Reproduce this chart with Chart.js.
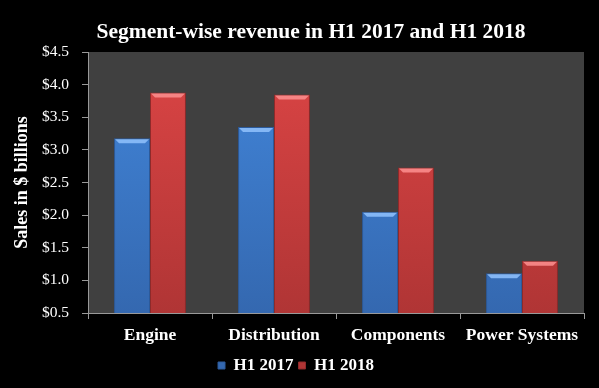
<!DOCTYPE html>
<html><head><meta charset="utf-8">
<script src="https://cdn.jsdelivr.net/npm/chart.js@4.4.0/dist/chart.umd.min.js"></script>
<style>html,body{margin:0;padding:0;background:#000;}#wrap{width:599px;height:388px;}</style>
</head><body><div id="wrap"><canvas id="c" width="599" height="388"></canvas></div>
<script>
const categories = ["Engine", "Distribution", "Components", "Power Systems"];
const h1_2017 = [3.18, 3.35, 2.05, 1.11];
const h1_2018 = [3.88, 3.85, 2.73, 1.30];
const yTicks = [0.5, 1.0, 1.5, 2.0, 2.5, 3.0, 3.5, 4.0, 4.5];
const chartTitle = 'Segment-wise revenue in H1 2017 and H1 2018';

const FONT = "'Liberation Serif', 'DejaVu Serif', serif";

function grad(ctx, top, bot) {
  const ca = ctx.chart.chartArea;
  if (!ca) return top;
  const g = ctx.chart.ctx.createLinearGradient(0, ca.top, 0, ca.bottom);
  g.addColorStop(0, top); g.addColorStop(1, bot);
  return g;
}

const bgPlugin = {
  id: 'bg',
  beforeDraw(chart) {
    const {ctx, chartArea: a} = chart;
    ctx.save();
    ctx.fillStyle = '#000';
    ctx.fillRect(0, 0, chart.width, chart.height);
    ctx.fillStyle = '#404040';
    ctx.fillRect(a.left, a.top, a.right - a.left, a.bottom - a.top);
    ctx.restore();
  },
  afterDraw(chart) {
    const ctx = chart.ctx;
    ctx.save();
    ctx.fillStyle = '#fff';
    ctx.font = "bold 21.5px " + FONT;
    ctx.textAlign = 'center';
    ctx.textBaseline = 'alphabetic';
    ctx.fillText(chartTitle, 311, 38);
    ctx.restore();
  }
};
const bevelPlugin = {
  id: 'bevel',
  afterDatasetsDraw(chart) {
    const ctx = chart.ctx;
    const cols = ['rgba(140,190,250,0.9)', 'rgba(250,140,140,0.9)'];
    chart.data.datasets.forEach((ds, i) => {
      chart.getDatasetMeta(i).data.forEach(bar => {
        const l = bar.x - bar.width / 2, r = bar.x + bar.width / 2, t = bar.y;
        ctx.save();
        ctx.fillStyle = cols[i];
        ctx.beginPath();
        ctx.moveTo(l + 1, t + 1); ctx.lineTo(r - 1, t + 1);
        ctx.lineTo(r - 5, t + 5); ctx.lineTo(l + 5, t + 5); ctx.closePath();
        ctx.fill();
        ctx.restore();
      });
    });
  }
};

new Chart(document.getElementById('c'), {
  type: 'bar',
  data: {
    labels: categories,
    datasets: [
      { label: 'H1 2017', data: h1_2017,
        backgroundColor: c => grad(c, '#4286da', '#3468b0'),
        borderColor: '#2c5a9a', borderWidth: 1 },
      { label: 'H1 2018', data: h1_2018,
        backgroundColor: c => grad(c, '#dc4545', '#b03535'),
        borderColor: '#8e2a2a', borderWidth: 1 }
    ]
  },
  options: {
    responsive: false,
    animation: false,
    devicePixelRatio: 1,
    layout: { padding: { top: 52, right: 15, left: 8, bottom: 4 } },
    datasets: { bar: { categoryPercentage: 0.58, barPercentage: 1.0 } },
    plugins: {
      title: { display: false },
      legend: { position: 'bottom',
        labels: { color: '#fff', boxWidth: 7, boxHeight: 7, padding: 5,
          font: { family: FONT, size: 17, weight: 'bold' } } },
      tooltip: { enabled: false }
    },
    scales: {
      x: {
        grid: { drawOnChartArea: false, drawTicks: true, tickLength: 6, color: '#999', offset: true },
        border: { color: '#999', width: 1 },
        ticks: { color: '#fff', padding: 6, font: { family: FONT, size: 17.5, weight: 'bold' } }
      },
      y: {
        min: 0.5, max: 4.5,
        afterBuildTicks: s => { s.ticks = yTicks.map(v => ({ value: v })); },
        afterFit: s => { s.width = 80; },
        grid: { drawOnChartArea: false, drawTicks: true, tickLength: 6, color: '#999' },
        border: { color: '#999', width: 1 },
        ticks: { color: '#fff', padding: 13, font: { family: FONT, size: 15.5 },
          callback: v => '$' + Number(v).toFixed(1) },
        title: { display: true, text: 'Sales in $ billions', color: '#fff',
          font: { family: FONT, size: 18, weight: 'bold', lineHeight: 1.2 }, padding: { top: 4, bottom: 0 } }
      }
    }
  },
  plugins: [bgPlugin, bevelPlugin]
});
</script></body></html>
